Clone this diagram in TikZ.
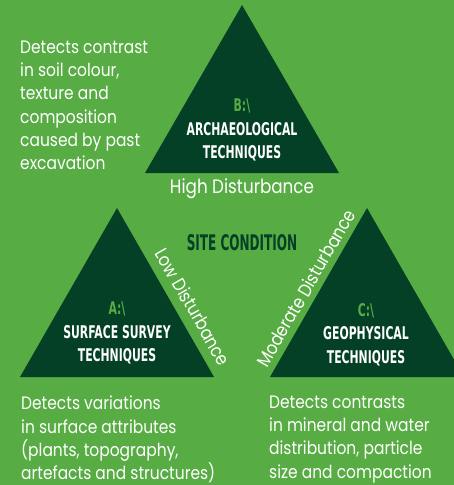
\documentclass[tikz,border=0pt]{standalone}
\usepackage{fontspec}
\setmainfont{Poppins}[FakeStretch=0.86]
\newfontfamily\headfont[FakeStretch=0.62]{DejaVu Sans}
\newfontfamily\titlefont[FakeStretch=0.56]{DejaVu Sans}
\usetikzlibrary{positioning}
\definecolor{fieldgreen}{RGB}{88,172,68}
\definecolor{darkgreen}{RGB}{3,64,38}

\tikzset{
  tri/.style={fill=darkgreen},
  note/.style={text=white, align=left, inner sep=0pt, anchor=north west,
    font=\fontsize{18}{23.1}\selectfont},
  level/.style={text=white, inner sep=0pt, font=\fontsize{19.5}{22}\selectfont},
  method/.style={text=white, align=center, inner sep=0pt, anchor=north,
    font=\headfont\bfseries\fontsize{17.5}{23.5}\selectfont},
}

\begin{document}
\begin{tikzpicture}[x=1pt, y=-1pt]
\clip (0,0) rectangle (454,485);
\fill[fieldgreen] (0,0) rectangle (454,485);

% the three triangles
\coordinate (b-top) at (242,5);
\coordinate (a-top) at (117,208);
\coordinate (c-top) at (367,208);
\fill[tri] (b-top) -- ++(97,168) -- ++(-194,0) -- cycle;
\fill[tri] (a-top) -- ++(97,169) -- ++(-194,0) coordinate (a-left) -- cycle;
\fill[tri] (c-top) -- ++(97,169) -- ++(-194,0) coordinate (c-left) -- cycle;

% labels in the triangles
\node[method] (arch) at (242,99) {{\color{fieldgreen}B:\textbackslash}\\ARCHAEOLOGICAL\\TECHNIQUES};
\node[method] (surf) at (117,302) {{\color{fieldgreen}A:\textbackslash}\\SURFACE SURVEY\\TECHNIQUES};
\node[method] (geo) at (366,303) {{\color{fieldgreen}C:\textbackslash}\\GEOPHYSICAL\\TECHNIQUES};

\node[text=darkgreen, inner sep=0pt, anchor=base,
  font=\titlefont\bfseries\fontsize{21.5}{24}\selectfont] (site) at (242,250) {SITE CONDITION};

% disturbance levels
\node[level] (high) at (242,189) {High Disturbance};
\node[level, rotate=-60, font=\fontsize{18.5}{22}\selectfont] (low) at (193,307) {Low Disturbance};
\node[level, rotate=60, font=\fontsize{18.5}{22}\selectfont] (moderate) at (306,288) {Moderate Disturbance};

% descriptions
\node[note] (arch-note) at (20,41) {Detects contrast\\in soil colour,\\texture and\\composition\\caused by past\\excavation};
\node[note] (surf-note) at (21,396) {Detects variations\\in surface attributes\\(plants, topography,\\artefacts and structures)};
\node[note] (geo-note) at (269,396) {Detects contrasts\\in mineral and water\\distribution, particle\\size and compaction};
\end{tikzpicture}
\end{document}
